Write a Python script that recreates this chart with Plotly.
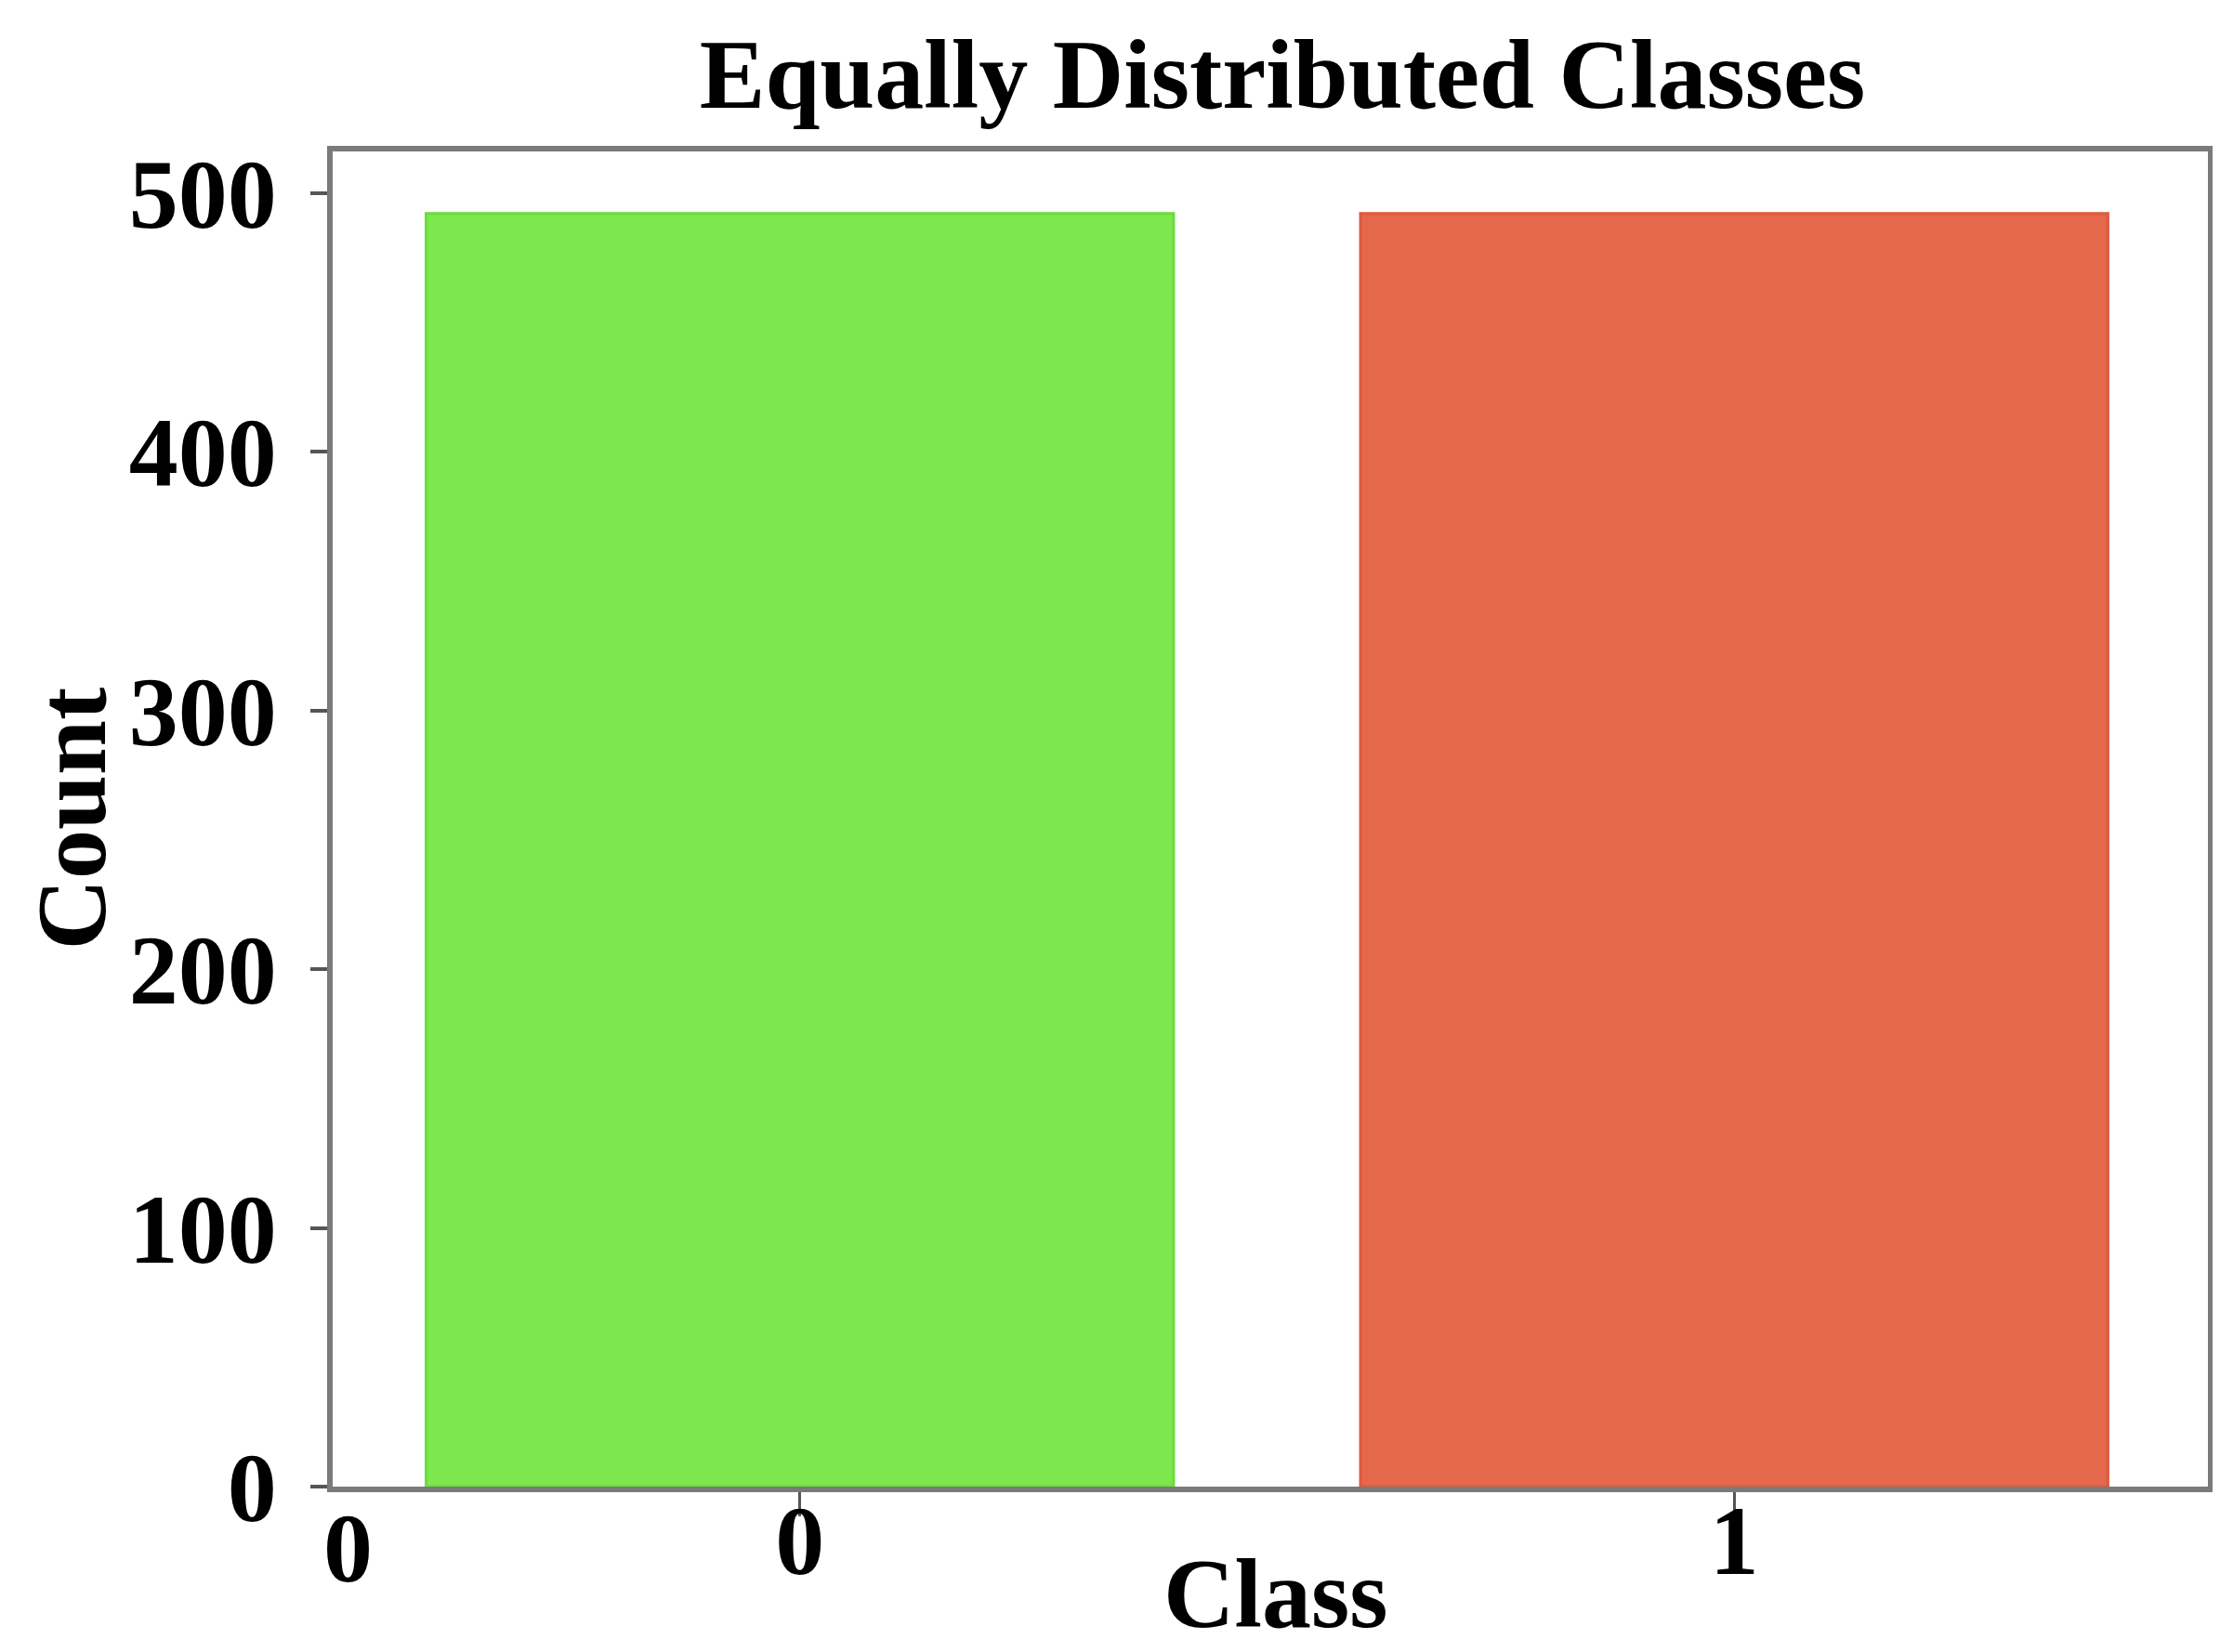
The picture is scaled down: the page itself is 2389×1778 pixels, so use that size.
import plotly.graph_objects as go

# class counts after undersampling
classes = ["0", "1"]
counts = [492, 492]
bar_colors = ["#7de74e", "#e5684c"]
edge_colors = ["#6bdc3c", "#df5a3e"]
y_ticks = [0, 100, 200, 300, 400, 500]
corner_label = "0"

title_text = "Equally Distributed Classes"
x_title = "Class"
y_title = "Count"
serif = dict(family="Liberation Serif, Times New Roman, serif", size=106, color="black", weight="bold")

fig = go.Figure()
fig.add_trace(go.Bar(
    x=classes,
    y=counts,
    width=0.8,
    marker=dict(color=bar_colors, line=dict(color=edge_colors, width=3)),
    showlegend=False,
))

# stray "0" printed under the axis corner in the original figure
fig.add_annotation(
    x=-0.484, xref="x", y=0, yref="paper",
    text=corner_label, showarrow=False,
    yanchor="middle", yshift=-66,
    font=serif,
)
# axis titles as annotations so margins don't move
fig.add_annotation(
    x=0.5, xref="paper", y=0, yref="paper",
    text=x_title, showarrow=False,
    xanchor="center", yanchor="middle", xshift=6, yshift=-115,
    font=serif,
)
fig.add_annotation(
    x=0, xref="paper", y=0.5, yref="paper",
    text=y_title, showarrow=False, textangle=-90,
    xanchor="center", yanchor="middle", xshift=-281,
    font=serif,
)

fig.update_layout(
    width=2389,
    height=1778,
    margin=dict(l=350, r=21, t=155, b=186),
    paper_bgcolor="white",
    plot_bgcolor="white",
    font=serif,
    title=dict(
        text=title_text,
        x=1372 / 2389, xanchor="center",
        y=1 - 71 / 1778, yanchor="middle",
        yref="container",
        font=serif,
    ),
    xaxis=dict(
        type="category",
        range=[-0.5, 1.507],
        automargin=False,
        showline=True, mirror=True, linecolor="#7a7a7a", linewidth=6,
        ticks="outside", ticklen=26, tickwidth=3, tickcolor="#555555",
        ticklabelstandoff=-65,
        showgrid=False, zeroline=False,
        tickfont=serif,
    ),
    yaxis=dict(
        range=[0, 516],
        tickvals=y_ticks,
        automargin=False,
        showline=True, mirror=True, linecolor="#7a7a7a", linewidth=6,
        ticks="outside", ticklen=18, tickwidth=4, tickcolor="#555555",
        ticklabelstandoff=15,
        showgrid=False, zeroline=False,
        tickfont=serif,
    ),
)

fig.write_html("out.html")
